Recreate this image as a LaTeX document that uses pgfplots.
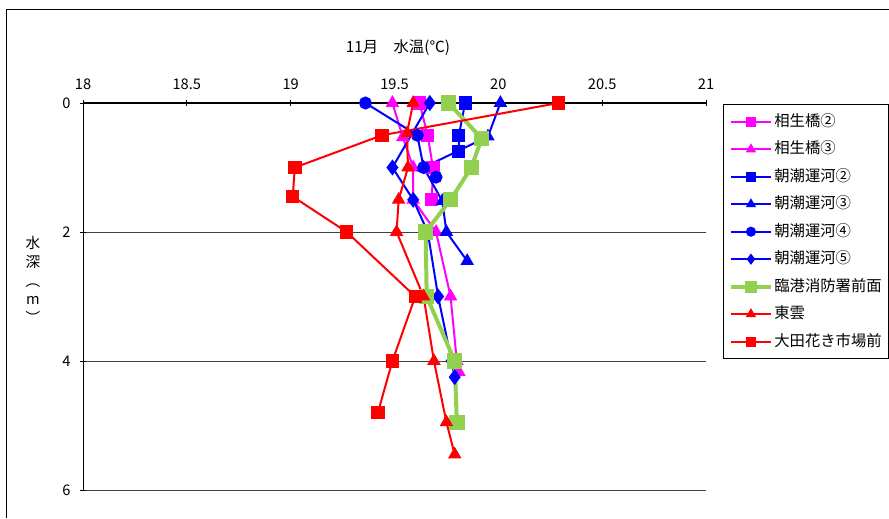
\documentclass[border=0pt]{standalone}
\usepackage{pgfplots}
\pgfplotsset{compat=1.18}
\usepackage{fontspec}
\setmainfont{Noto Sans CJK JP}
\definecolor{cMag}{RGB}{255,0,255}
\definecolor{cBlue}{RGB}{0,0,255}
\definecolor{cGreen}{RGB}{146,208,80}
\definecolor{cRed}{RGB}{255,0,0}
\begin{document}
\begin{tikzpicture}
\useasboundingbox (0,0) rectangle (666.75pt,388.5pt);
\draw[black, line width=0.75pt] (4.5pt,0pt) -- (4.5pt,381pt) -- (666.75pt,381pt);
\node[font=\fontsize{11.5}{13}\selectfont] at (298.5pt,352.5pt) {11月　水温(℃)};
\node[font=\fontsize{11}{14}\selectfont, align=center, inner sep=0pt] at (24.75pt,178.5pt) {水\\深\\︵\\m\\︶};
\begin{axis}[
  at={(62.25pt,21pt)}, anchor=south west,
  scale only axis, width=467.25pt, height=290.25pt,
  xmin=18, xmax=21, ymin=0, ymax=6, y dir=reverse,
  axis x line=top, axis y line=left,
  axis line style={-},
  x axis line style={line width=1.5pt},
  y axis line style={line width=0.75pt},
  xtick={18,18.5,...,21},
  ytick={0,2,4,6},
  xticklabels={18,18.5,19,19.5,20,20.5,21},
  yticklabels={0,2,4,6},
  tick style={black, line width=0.75pt},
  major tick length=4pt,
  ymajorgrids, grid style={black!75, line width=0.75pt},
  tick label style={font=\fontsize{11}{13}\selectfont},
  xticklabel style={yshift=4.5pt},
  yticklabel style={xshift=-3.75pt},
  /pgf/number format/assume math mode=true,
  clip=false,
  legend style={at={(1,1)}, anchor=north west, xshift=12.75pt, yshift=-0.75pt,
    draw=black, line width=0.75pt, font=\fontsize{11.5}{13}\selectfont,
    row sep=6.6pt, inner xsep=4pt, inner ysep=6pt,
    nodes={inner sep=1pt, text height=9.5pt, text depth=2.5pt}},
  legend cell align=left,
  legend image code/.code={\draw[mark repeat=2, mark phase=2, mark size=3pt] plot coordinates {(0cm,0cm) (0.53cm,0cm) (1.06cm,0cm)};},
]
\addplot[cMag, line width=1.5pt, mark=square*, mark size=4.2pt] coordinates {
(19.62,0) (19.66,0.5) (19.685,1.0) (19.68,1.5)};
\addlegendentry{相生橋②}
\addplot[cMag, line width=1.5pt, mark=triangle*, mark size=4.4pt] coordinates {
(19.49,0) (19.54,0.53) (19.59,1.0) (19.59,1.5) (19.70,2.0) (19.77,3.0) (19.80,4.0) (19.81,4.17)};
\addlegendentry{相生橋③}
\addplot[cBlue, line width=1.5pt, mark=square*, mark size=4.2pt] coordinates {
(19.84,0) (19.81,0.5) (19.81,0.75)};
\addlegendentry{朝潮運河②}
\addplot[cBlue, line width=1.5pt, mark=triangle*, mark size=4.4pt] coordinates {
(20.01,0) (19.95,0.52) (19.64,1.0) (19.73,1.52) (19.75,2.0) (19.85,2.45)};
\addlegendentry{朝潮運河③}
\addplot[cBlue, line width=1.5pt, mark=*, mark size=4.1pt] coordinates {
(19.36,0) (19.61,0.5) (19.64,1.0) (19.70,1.15)};
\addlegendentry{朝潮運河④}
\addplot[cBlue, line width=1.5pt, mark=diamond*, mark size=4.8pt] coordinates {
(19.67,0) (19.49,1.0) (19.59,1.5) (19.66,2.0) (19.71,3.0) (19.775,4.0) (19.79,4.25)};
\addlegendentry{朝潮運河⑤}
\addplot[cGreen, line width=3pt, mark=square*, mark size=4.3pt] coordinates {
(19.76,0) (19.92,0.55) (19.87,1.0) (19.77,1.5) (19.65,2.0) (19.655,3.0) (19.79,4.0) (19.80,4.95)};
\addlegendentry{臨港消防署前面}
\addplot[cRed, line width=1.5pt, mark=triangle*, mark size=4.4pt] coordinates {
(19.59,0) (19.56,0.47) (19.565,1.0) (19.52,1.5) (19.51,2.0) (19.64,3.0) (19.69,4.0) (19.75,4.95) (19.79,5.45)};
\addlegendentry{東雲}
\addplot[cRed, line width=1.5pt, mark=square*, mark size=4.3pt] coordinates {
(20.29,0) (19.44,0.5) (19.02,1.0) (19.01,1.45) (19.27,2.0) (19.60,3.0) (19.49,4.0) (19.42,4.8)};
\addlegendentry{大田花き市場前}
\end{axis}
\end{tikzpicture}
\end{document}
